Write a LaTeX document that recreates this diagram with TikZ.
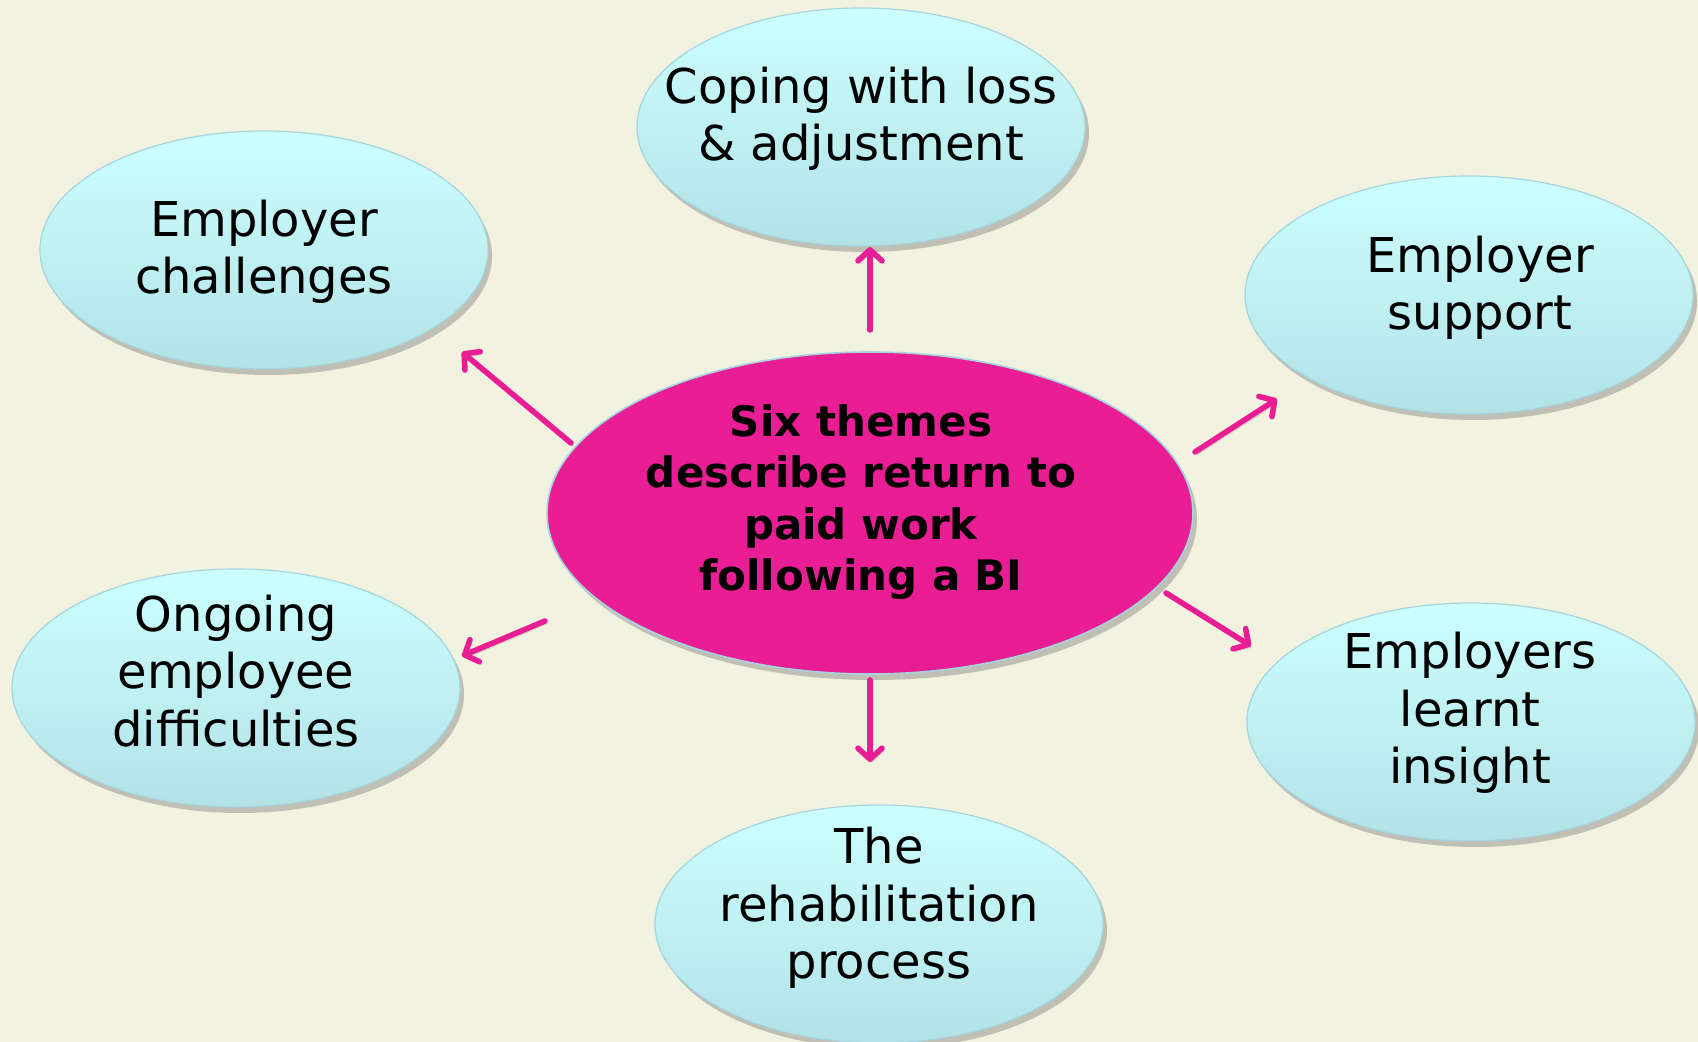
\documentclass[tikz,border=0pt]{standalone}
\usepackage{fontspec}
\setmainfont{DejaVu Sans}
\usetikzlibrary{shapes.geometric,shadows,arrows.meta}
\definecolor{bg}{RGB}{242,242,224}
\definecolor{mag}{RGB}{233,30,148}
\definecolor{ctop}{RGB}{204,255,255}
\definecolor{cbot}{RGB}{178,226,230}
\definecolor{cedge}{RGB}{165,212,222}
\begin{document}
\begin{tikzpicture}[x=0.5pt,y=-0.5pt,
  theme/.style={ellipse, minimum width=224pt, minimum height=119pt, inner sep=0pt, outer sep=0pt,
    top color=ctop, bottom color=cbot, draw=cedge, line width=0.6pt,
    drop shadow={shadow xshift=2pt, shadow yshift=-3pt, opacity=0.3, fill=black!70}},
  hub/.style={ellipse, minimum width=323pt, minimum height=161pt, inner sep=0pt, outer sep=0pt,
    fill=mag, draw=cedge, line width=0.8pt,
    drop shadow={shadow xshift=2pt, shadow yshift=-3pt, opacity=0.3, fill=black!70}},
  ttext/.style={align=center, font=\fontsize{24}{28.7}\selectfont, inner sep=0pt},
  htext/.style={align=center, font=\fontsize{21}{25.7}\selectfont\bfseries, inner sep=0pt},
  arr/.style={mag, line width=2.8pt, line cap=round,
    -{Straight Barb[length=5.5pt,width=12pt,line cap=round,line join=round]},
    preaction={draw=black!60, opacity=0.25, transform canvas={shift={(1pt,-1.5pt)}}}}]
\useasboundingbox (0,0) rectangle (1698,1042);
\fill[bg] (0,0) rectangle (1698,1042);

\node[hub] (c) at (870,513) {};
\node[htext] (tc) at (861,502) {Six themes\\describe return to\\paid work\\following a BI};

\node[theme] (cop) at (861,127) {};
\node[ttext] (tcop) at (861,119) {Coping with loss\\\& adjustment};

\node[theme] (ch) at (264,250) {};
\node[ttext] (tch) at (264,252) {Employer\\challenges};

\node[theme] (sup) at (1469,295) {};
\node[ttext] (tsup) at (1480,288) {Employer\\support};

\node[theme] (ong) at (236,688) {};
\node[ttext] (tong) at (236,671) {Ongoing\\employee\\difficulties};

\node[theme] (lea) at (1471,722) {};
\node[ttext] (tlea) at (1470,713) {Employers\\learnt\\insight};

\node[theme] (reh) at (879,924) {};
\node[ttext] (treh) at (879,908) {The\\rehabilitation\\process};

\draw[arr] ([shift={(0,-183)}]c.center) -- ([shift={(9,120)}]cop.center);
\draw[arr] ([shift={(-299,-70)}]c.center) -- ([shift={(198,102)}]ch.center);
\draw[arr] ([shift={(325,-61)}]c.center) -- ([shift={(-192,104)}]sup.center);
\draw[arr] ([shift={(-325,108)}]c.center) -- ([shift={(226,-32)}]ong.center);
\draw[arr] ([shift={(296,80)}]c.center) -- ([shift={(-220,-76)}]lea.center);
\draw[arr] ([shift={(0,167)}]c.center) -- ([shift={(-9,-162)}]reh.center);
\end{tikzpicture}
\end{document}
